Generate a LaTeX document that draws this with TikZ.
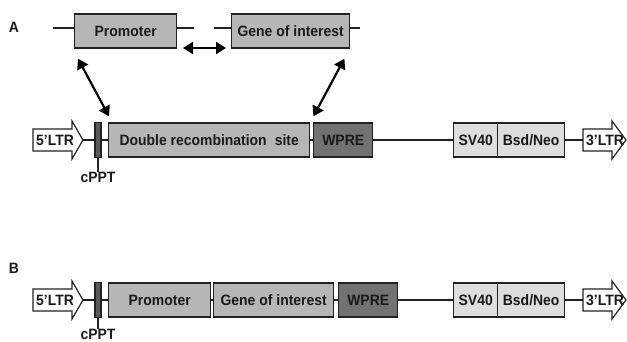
\documentclass[tikz,border=0pt]{standalone}
\usepackage{fontspec}
\setmainfont{Liberation Sans}[FakeStretch=0.93]
\usetikzlibrary{arrows.meta,calc}
\definecolor{midgray}{HTML}{B6B6B6}
\definecolor{wpregray}{HTML}{727272}
\definecolor{lightgray}{HTML}{DEDEDE}
\definecolor{cpptgray}{HTML}{5A5A5A}
\definecolor{edgecol}{HTML}{222222}
\definecolor{txtcol}{HTML}{1A1A1A}
\begin{document}
\begin{tikzpicture}[x=1pt,y=-1pt,
  every node/.style={font=\fontsize{15}{17}\selectfont\bfseries, text=txtcol},
  box/.style={draw=edgecol, line width=1.4pt, minimum height=34pt, inner sep=0pt, anchor=west},
  cppt/.style={draw=edgecol, line width=1.2pt, fill=cpptgray, minimum width=6pt, minimum height=35pt, inner sep=0pt},
  bb/.style={draw=edgecol, line width=1.4pt},
  ltr/.style={draw=edgecol, line width=1.2pt, fill=white},
  dbl/.style={draw=black, line width=2.2pt, {Triangle[length=10pt,width=12pt]}-{Triangle[length=10pt,width=12pt]}},
  plain/.style={inner sep=0pt}
]
\useasboundingbox (0,0) rectangle (627,341);
\fill[white] (0,0) rectangle (627,341);

% ---------- Panel A ----------
\node[plain] (labA) at (14,27) {A};

% top row
\node[box, fill=midgray, minimum width=102pt] (prT) at (74,31) {Promoter};
\node[box, fill=midgray, minimum width=118pt] (goiT) at (231,31) {Gene of interest};
\coordinate (tl1) at (53,28);
\coordinate (tl2) at (194,28);
\coordinate (tl3) at (214,28);
\coordinate (tl4) at (360,28);
\draw[bb] (tl1) -- (tl1 -| prT.west);
\draw[bb] (tl2 -| prT.east) -- (tl2);
\draw[bb] (tl3) -- (tl3 -| goiT.west);
\draw[bb] (tl4 -| goiT.east) -- (tl4);
\coordinate (da1) at (183,48);
\coordinate (da2) at (226,48);
\draw[dbl] (da1) -- (da2);

% main row A
\draw[ltr] (33,129) -- (72,129) -- (72,121) -- (83,140) -- (72,159) -- (72,151) -- (33,151) -- cycle;
\node[plain] (ltr5A) at (55,140) {5’LTR};
\coordinate (t5A) at (83,140);
\node[cppt] (cpA) at (98,140) {};
\node[plain] (cplA) at (98,177) {cPPT};
\node[box, fill=midgray, minimum width=201pt] (drs) at (108,140) {Double recombination\hspace{0.28em} site};
\node[box, fill=wpregray, minimum width=59pt] (wpreA) at (313,140) {WPRE};
\node[box, fill=lightgray, minimum width=44pt] (sv40A) at (453,140) {SV40};
\node[box, fill=lightgray, minimum width=67pt] (bsdA) at (497,140) {Bsd/Neo};
\coordinate (t3A) at (583,140);
\draw[ltr] (583,129) -- (612,129) -- (612,121) -- (626,140) -- (612,159) -- (612,151) -- (583,151) -- cycle;
\node[plain] (ltr3A) at (605,140) {3’LTR};

\draw[bb] (t5A) -- (cpA.west);
\draw[bb] (cpA.south) -- (cplA.north);
\draw[bb] (cpA.east) -- (drs.west);
\draw[bb] (drs.east) -- (wpreA.west);
\draw[bb] (wpreA.east) -- (sv40A.west);
\draw[bb] (bsdA.east) -- (t3A);

\draw[dbl] ($(prT.south west)+(4,10)$) -- ($(drs.north west)+(1,-6)$);
\draw[dbl] ($(goiT.south east)+(-6,10)$) -- ($(drs.north east)+(3,-6)$);

% ---------- Panel B ----------
\node[plain] (labB) at (14,268) {B};
\draw[ltr] (33,289) -- (72,289) -- (72,281) -- (83,300) -- (72,319) -- (72,311) -- (33,311) -- cycle;
\node[plain] (ltr5B) at (55,300) {5’LTR};
\coordinate (t5B) at (83,300);
\node[cppt] (cpB) at (98,300) {};
\node[plain] (cplB) at (98,334) {cPPT};
\node[box, fill=midgray, minimum width=102pt] (prB) at (108,300) {Promoter};
\node[box, fill=midgray, minimum width=120pt] (goiB) at (213,300) {Gene of interest};
\node[box, fill=wpregray, minimum width=59pt] (wpreB) at (338,300) {WPRE};
\node[box, fill=lightgray, minimum width=44pt] (sv40B) at (453,300) {SV40};
\node[box, fill=lightgray, minimum width=67pt] (bsdB) at (497,300) {Bsd/Neo};
\coordinate (t3B) at (583,300);
\draw[ltr] (583,289) -- (612,289) -- (612,281) -- (626,300) -- (612,319) -- (612,311) -- (583,311) -- cycle;
\node[plain] (ltr3B) at (605,300) {3’LTR};

\draw[bb] (t5B) -- (cpB.west);
\draw[bb] (cpB.south) -- (cplB.north);
\draw[bb] (cpB.east) -- (prB.west);
\draw[bb] (prB.east) -- (goiB.west);
\draw[bb] (goiB.east) -- (wpreB.west);
\draw[bb] (wpreB.east) -- (sv40B.west);
\draw[bb] (bsdB.east) -- (t3B);
\end{tikzpicture}
\end{document}
